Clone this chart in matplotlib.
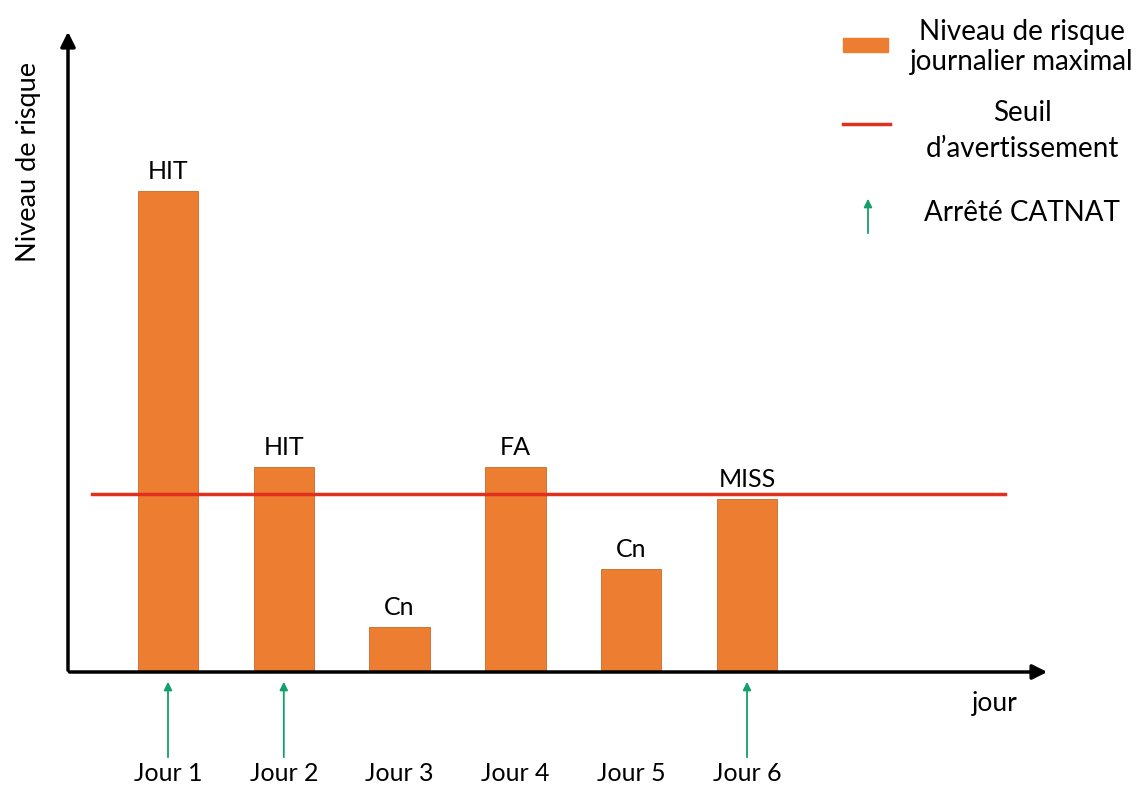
import matplotlib.pyplot as plt
from matplotlib.patches import Rectangle

# data (arbitrary risk units)
days = [1, 2, 3, 4, 5, 6]
day_labels = ['Jour 1', 'Jour 2', 'Jour 3', 'Jour 4', 'Jour 5', 'Jour 6']
risk_max = [9.62, 4.1, 0.9, 4.1, 2.06, 3.46]
outcomes = ['HIT', 'HIT', 'Cn', 'FA', 'Cn', 'MISS']
threshold = 3.56
catnat_days = [1, 2, 6]

ORANGE = '#ED7D31'
RED = '#E0301E'
GREEN = '#14A06A'

plt.rcParams['font.family'] = ['Lato', 'DejaVu Sans']

fig = plt.figure(figsize=(11.42, 7.87), dpi=100)
ax = fig.add_axes([0, 0, 1, 1])
ax.set_xlim(-0.4508, 9.411)
ax.set_ylim(-2.3, 13.44)
ax.axis('off')

# bars + labels
ax.bar(days, risk_max, width=0.52, color=ORANGE, edgecolor='#C86A28', linewidth=0.6, zorder=2)
for d, h, lab in zip(days, risk_max, outcomes):
    ax.text(d, h + 0.16, lab, ha='center', va='bottom', fontsize=18, color='black')

# warning threshold
ax.plot([0.344, 8.228], [threshold, threshold], color=RED, lw=2.5, zorder=3)

# axes drawn as arrows
ax.annotate('', xy=(8.617, 0), xytext=(0.125, 0),
            arrowprops=dict(arrowstyle='-|>', lw=2.5, color='black', mutation_scale=22), zorder=4)
ax.annotate('', xy=(0.1364, 12.86), xytext=(0.1364, -0.02),
            arrowprops=dict(arrowstyle='-|>', lw=2.5, color='black', mutation_scale=22), zorder=4)

# CATNAT arrows
for d in catnat_days:
    ax.annotate('', xy=(d, -0.14), xytext=(d, -1.76),
                arrowprops=dict(arrowstyle='-|>', lw=1.3, color=GREEN, mutation_scale=12))

# day labels
for d, lab in zip(days, day_labels):
    ax.text(d, -2.03, lab, ha='center', va='center', fontsize=18)

ax.text(8.142, -0.62, 'jour', ha='center', va='center', fontsize=19)
ax.text(-0.209, 10.2, 'Niveau de risque', rotation=90, ha='center', va='center', fontsize=19.5)

# legend, drawn by hand
ax.add_patch(Rectangle((6.829, 12.4), 0.389, 0.28, color=ORANGE))
ax.text(8.375, 12.5, 'Niveau de risque\njournalier maximal', ha='center', va='center',
        fontsize=20, linespacing=1.2)
ax.plot([6.829, 7.235], [10.96, 10.96], color=RED, lw=2.5)
ax.text(8.375, 10.82, 'Seuil\nd\u2019avertissement', ha='center', va='center',
        fontsize=20, linespacing=1.45)
ax.annotate('', xy=(7.045, 9.52), xytext=(7.045, 8.72),
            arrowprops=dict(arrowstyle='-|>', lw=1.3, color=GREEN, mutation_scale=12))
ax.text(8.375, 9.18, 'Arrêté CATNAT', ha='center', va='center', fontsize=20)

fig.savefig('out.png', dpi=100)
